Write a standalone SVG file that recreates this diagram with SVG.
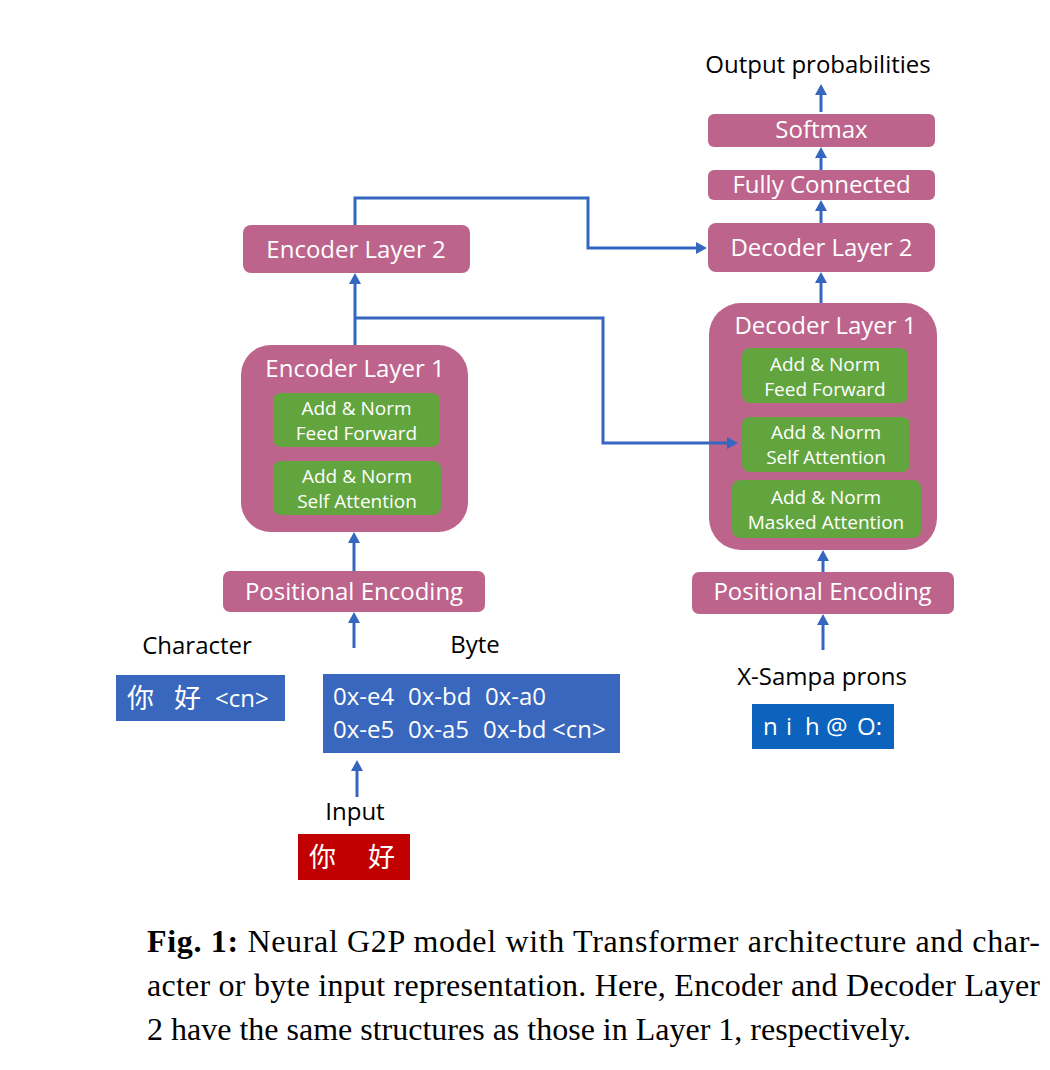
<svg xmlns="http://www.w3.org/2000/svg" width="1050" height="1070" viewBox="0 0 1050 1070">
<style>
.pink{fill:#bd648d}
.green{fill:#62a53e}
.wl{font-family:"Open Sans","Liberation Sans",sans-serif;font-size:24px;fill:#ffffff;text-anchor:middle}
.ws{font-family:"Open Sans","Liberation Sans",sans-serif;font-size:19px;fill:#ffffff;text-anchor:middle}
.bl{font-family:"Open Sans","Liberation Sans",sans-serif;font-size:24px;fill:#000000;text-anchor:middle}
.bt{font-family:"Open Sans","Liberation Sans",sans-serif;font-size:24px;fill:#ffffff}
.cjk{font-family:"Noto Sans CJK SC","Noto Sans CJK JP",sans-serif;font-size:27px;fill:#ffffff}
.cap{font-family:"Liberation Serif","Times New Roman",serif;font-size:32px;fill:#000000}
.conn{fill:none;stroke:#3566c0;stroke-width:3;marker-end:url(#ah)}
</style>
<defs>
<marker id="ah" viewBox="0 0 11 12" refX="0" refY="6" markerWidth="11" markerHeight="12" markerUnits="userSpaceOnUse" orient="auto">
<path d="M0,0 L11,6 L0,12 z" fill="#3566c0"/>
</marker>
</defs>
<rect width="1050" height="1070" fill="#ffffff"/>

<g id="output-label"><text class="bl" x="818" y="73">Output probabilities</text></g>

<g id="softmax"><rect class="pink" x="708" y="114" width="227" height="33" rx="6"/><text class="wl" x="821.5" y="138">Softmax</text></g>
<g id="fully-connected"><rect class="pink" x="708" y="170" width="227" height="30" rx="6"/><text class="wl" x="821.5" y="193">Fully Connected</text></g>
<g id="decoder-layer-2"><rect class="pink" x="708" y="223" width="227" height="49" rx="8"/><text class="wl" x="821.5" y="256">Decoder Layer 2</text></g>

<g id="encoder-layer-2"><rect class="pink" x="243" y="225" width="227" height="48" rx="8"/><text class="wl" x="356" y="258">Encoder Layer 2</text></g>

<g id="encoder-layer-1">
<rect class="pink" x="241" y="345" width="227" height="187" rx="30"/>
<text class="wl" x="355" y="377">Encoder Layer 1</text>
<rect class="green" x="273" y="393" width="167" height="54" rx="8"/>
<text class="ws" x="356.5" y="415">Add &amp; Norm</text>
<text class="ws" x="356.5" y="440">Feed Forward</text>
<rect class="green" x="273" y="461" width="168" height="54" rx="8"/>
<text class="ws" x="357" y="483">Add &amp; Norm</text>
<text class="ws" x="357" y="508">Self Attention</text>
</g>

<g id="decoder-layer-1">
<rect class="pink" x="709" y="303" width="228" height="247" rx="32"/>
<text class="wl" x="825.5" y="334">Decoder Layer 1</text>
<rect class="green" x="742" y="348" width="166" height="55" rx="8"/>
<text class="ws" x="825" y="371">Add &amp; Norm</text>
<text class="ws" x="825" y="396">Feed Forward</text>
<rect class="green" x="742" y="417" width="168" height="55" rx="8"/>
<text class="ws" x="826" y="439">Add &amp; Norm</text>
<text class="ws" x="826" y="464">Self Attention</text>
<rect class="green" x="732" y="480" width="189" height="58" rx="8"/>
<text class="ws" x="826" y="504">Add &amp; Norm</text>
<text class="ws" x="826" y="529">Masked Attention</text>
</g>

<g id="enc-positional-encoding"><rect class="pink" x="223" y="571" width="262" height="41" rx="7"/><text class="wl" x="354" y="600">Positional Encoding</text></g>
<g id="dec-positional-encoding"><rect class="pink" x="692" y="572" width="262" height="42" rx="7"/><text class="wl" x="822.5" y="600">Positional Encoding</text></g>

<g id="character">
<text class="bl" x="197" y="654">Character</text>
<rect x="116" y="675" width="169" height="46" fill="#3867bd"/>
<text class="cjk" x="127" y="708">你</text>
<text class="cjk" x="174" y="708">好</text>
<text class="bt" x="215" y="707">&lt;cn&gt;</text>
</g>

<g id="byte">
<text class="bl" x="475" y="653">Byte</text>
<rect x="323" y="674" width="297" height="79" fill="#3867bd"/>
<text class="bt" y="705"><tspan x="333">0x-e4</tspan><tspan x="408">0x-bd</tspan><tspan x="485">0x-a0</tspan></text>
<text class="bt" y="738"><tspan x="333">0x-e5</tspan><tspan x="408">0x-a5</tspan><tspan x="483">0x-bd</tspan><tspan x="552">&lt;cn&gt;</tspan></text>
</g>

<g id="input">
<text class="bl" x="355" y="820">Input</text>
<rect x="298" y="834" width="112" height="46" fill="#c00000"/>
<text class="cjk" x="309" y="867">你</text>
<text class="cjk" x="368" y="867">好</text>
</g>

<g id="xsampa">
<text class="bl" x="822" y="685">X-Sampa prons</text>
<rect x="752" y="704" width="142" height="45" fill="#0b63bd"/>
<text class="bt" y="735"><tspan x="763">n</tspan><tspan x="786">i</tspan><tspan x="805">h</tspan><tspan x="826">@</tspan><tspan x="857">O:</tspan></text>
</g>

<g id="connectors">
<path class="conn" d="M355,345 V284"/>
<path class="conn" d="M355,225 V198 H588 V248 H696"/>
<path class="conn" d="M355,318 H603 V443 H727"/>
<path class="conn" d="M354,571 V543"/>
<path class="conn" d="M354,648 V623"/>
<path class="conn" d="M357,797 V771"/>
<path class="conn" d="M823,572 V561"/>
<path class="conn" d="M823,650 V625"/>
<path class="conn" d="M821,303 V283"/>
<path class="conn" d="M821,223 V211"/>
<path class="conn" d="M821,170 V158"/>
<path class="conn" d="M821,112 V95"/>
</g>

<g id="caption">
<text class="cap" x="147" y="952" textLength="893"><tspan font-weight="bold">Fig. 1:</tspan> Neural G2P model with Transformer architecture and char-</text>
<text class="cap" x="147" y="996" textLength="893">acter or byte input representation. Here, Encoder and Decoder Layer</text>
<text class="cap" x="147" y="1040">2 have the same structures as those in Layer 1, respectively.</text>
</g>
</svg>
